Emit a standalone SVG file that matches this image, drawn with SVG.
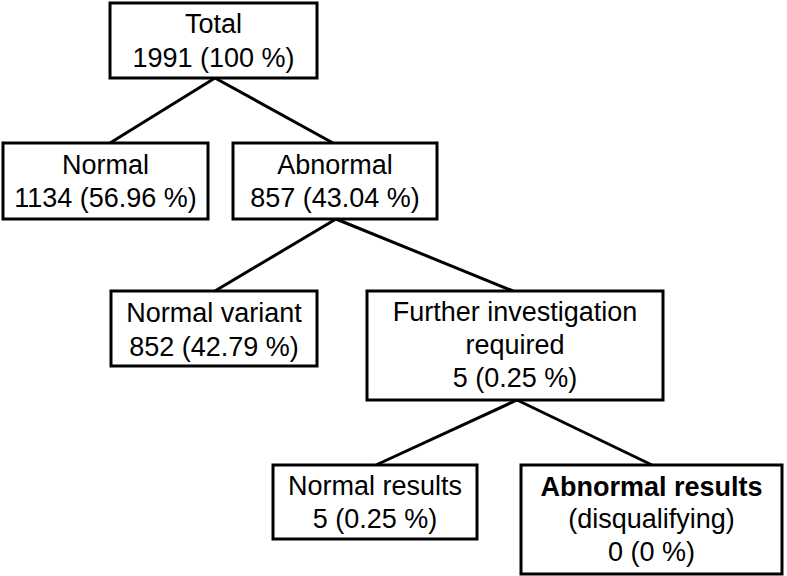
<svg xmlns="http://www.w3.org/2000/svg" width="787" height="576" viewBox="0 0 787 576">
<style>
.box{fill:#fff;stroke:#000;stroke-width:3}
.t{font-family:"Liberation Sans",Arial,sans-serif;font-size:27px;fill:#000;text-anchor:middle}
.b{font-weight:bold}
.c line{stroke:#000;stroke-width:3}
</style>
<rect width="787" height="576" fill="#fff"/>
<g class="c" id="connectors">
<line x1="215" y1="78" x2="110" y2="143"/>
<line x1="215" y1="78" x2="333" y2="143"/>
<line x1="336" y1="219" x2="215" y2="291"/>
<line x1="336" y1="219" x2="513" y2="291"/>
<line x1="517" y1="400" x2="376" y2="465"/>
<line x1="517" y1="400" x2="652" y2="465"/>
</g>
<g id="total">
<rect class="box" x="110" y="3" width="207" height="75"/>
<text class="t" x="213.5" y="33">Total</text>
<text class="t" x="213.5" y="67">1991 (100 %)</text>
</g>
<g id="normal">
<rect class="box" x="3" y="143" width="205" height="76"/>
<text class="t" x="105.5" y="174">Normal</text>
<text class="t" x="105.5" y="207">1134 (56.96 %)</text>
</g>
<g id="abnormal">
<rect class="box" x="233" y="143" width="204" height="76"/>
<text class="t" x="335" y="174">Abnormal</text>
<text class="t" x="335" y="207">857 (43.04 %)</text>
</g>
<g id="normal-variant">
<rect class="box" x="111" y="291" width="206" height="75"/>
<text class="t" x="214" y="322">Normal variant</text>
<text class="t" x="214" y="356">852 (42.79 %)</text>
</g>
<g id="further">
<rect class="box" x="367" y="291" width="296" height="109"/>
<text class="t" x="515" y="321">Further investigation</text>
<text class="t" x="515" y="354">required</text>
<text class="t" x="515" y="387">5 (0.25 %)</text>
</g>
<g id="normal-results">
<rect class="box" x="273" y="465" width="204" height="74"/>
<text class="t" x="375" y="495">Normal results</text>
<text class="t" x="375" y="528">5 (0.25 %)</text>
</g>
<g id="abnormal-results">
<rect class="box" x="521" y="465" width="261" height="109"/>
<text class="t b" x="651.5" y="496">Abnormal results</text>
<text class="t" x="651.5" y="528">(disqualifying)</text>
<text class="t" x="651.5" y="561">0 (0 %)</text>
</g>
</svg>
